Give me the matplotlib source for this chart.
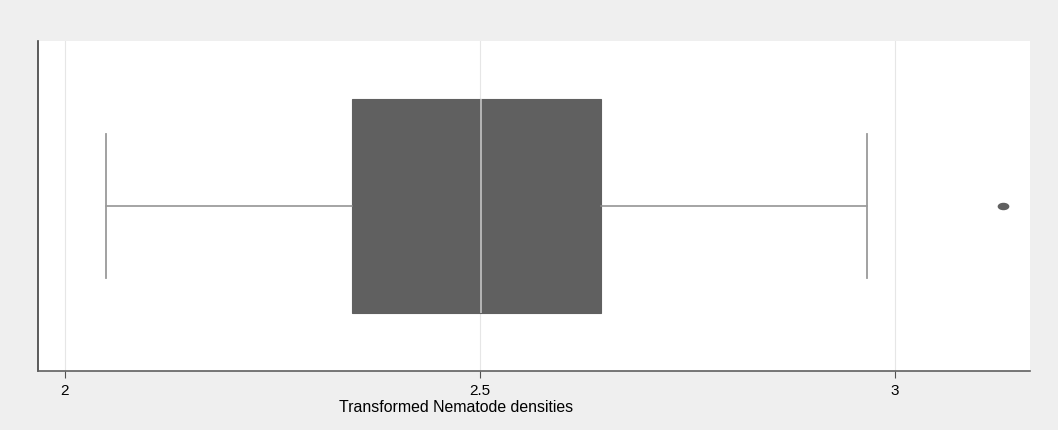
import matplotlib.pyplot as plt
from matplotlib.path import Path
from matplotlib.transforms import Affine2D

# summary statistics
whisker_low = 2.049
q1 = 2.346
median = 2.501
q3 = 2.646
whisker_high = 2.966
outliers = [3.130]

x_ticks = [2, 2.5, 3]
x_tick_labels = ['2', '2.5', '3']
x_label = 'Transformed Nematode densities'

plt.rcParams['font.family'] = ['Liberation Sans', 'DejaVu Sans']

fig = plt.figure(figsize=(10.58, 4.31), dpi=100)
fig.patch.set_facecolor('#efefef')
ax = fig.add_axes([0.0359, 0.1369, 0.9376, 0.7657])
ax.set_facecolor('white')

box_color = '#606060'
stats = [{
    'whislo': whisker_low, 'q1': q1, 'med': median, 'q3': q3,
    'whishi': whisker_high, 'fliers': [],
}]
ax.bxp(stats, positions=[0.5], widths=0.65, orientation='horizontal',
       patch_artist=True, showfliers=False,
       boxprops=dict(facecolor=box_color, edgecolor=box_color, linewidth=0.8),
       medianprops=dict(color='#c4c4c4', linewidth=1.2),
       whiskerprops=dict(color='#8c8c8c', linewidth=1.1),
       capprops=dict(color='#9a9a9a', linewidth=1.3),
       capwidths=0.436, zorder=3)

# stretched circle for the outlier marker
oval = Path.unit_circle().transformed(Affine2D().scale(1.7, 1.0))
ax.scatter(outliers, [0.5] * len(outliers), marker=oval, s=55,
           color=box_color, zorder=4)

ax.set_xlim(1.9675, 3.1627)
ax.set_ylim(0, 1)
ax.set_xticks(x_ticks)
ax.set_xticklabels(x_tick_labels, fontsize=11)
ax.set_yticks([])
ax.grid(True, axis='x', color='#e6e6e6', linewidth=0.8, zorder=0)
ax.set_axisbelow(True)

ax.set_xlabel(x_label, fontsize=11.4, labelpad=0)
ax.xaxis.set_label_coords(0.4214, -0.085)
ax.xaxis.label.set_va('top')
ax.tick_params(axis='x', length=5, width=0.8, color='#505050', pad=4)

for side in ['top', 'right']:
    ax.spines[side].set_visible(False)
ax.spines['left'].set_color('#404040')
ax.spines['left'].set_linewidth(1.2)
ax.spines['bottom'].set_color('#606060')
ax.spines['bottom'].set_linewidth(1.2)

fig.savefig('out.png', dpi=100, facecolor=fig.get_facecolor())
